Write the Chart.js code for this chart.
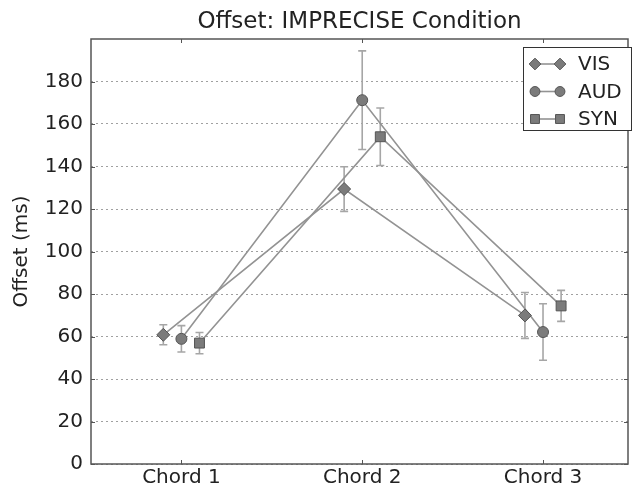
<!DOCTYPE html>
<html>
<head>
<meta charset="utf-8">
<script src="https://cdn.jsdelivr.net/npm/chart.js@4/dist/chart.umd.min.js"></script>
<style>
html,body{margin:0;padding:0;background:#fff;}
#wrap{width:636px;height:492px;}
</style>
</head>
<body>
<div id="wrap"><canvas id="c" width="636" height="492"></canvas></div>
<script>
// ---- data ----
const categories = ['Chord 1', 'Chord 2', 'Chord 3'];
const seriesNames = ['VIS', 'AUD', 'SYN'];
const visValues = [60.8, 129.4, 69.9];
const audValues = [58.9, 171.2, 62.1];
const synValues = [56.9, 154.0, 74.4];
const visErr = [4.7, 10.5, 10.8];
const audErr = [6.2, 23.2, 13.3];
const synErr = [5.0, 13.5, 7.3];
const yTicks = [0, 20, 40, 60, 80, 100, 120, 140, 160, 180];

// ---- styling / layout ----
const seriesShift = [-0.1, 0, 0.1];
const pointStyles = ['rectRot', 'circle', 'rect'];
const pointRadii = [6.5, 5.5, 7];
const FONT = "'DejaVu Sans', sans-serif";
const TEXT = '#222';

const allValues = [visValues, audValues, synValues];
const allErr = [visErr, audErr, synErr];

const datasets = seriesNames.map((name, s) => ({
  label: name,
  data: categories.map((c, i) => ({x: i + 1 + seriesShift[s], y: allValues[s][i], err: allErr[s][i]})),
  showLine: true,
  borderColor: '#939393',
  borderWidth: 1.6,
  pointStyle: pointStyles[s],
  pointRadius: pointRadii[s],
  pointHoverRadius: pointRadii[s],
  pointBackgroundColor: '#7b7b7b',
  pointBorderColor: '#555',
  pointBorderWidth: 1,
  tension: 0
}));

function drawMarker(ctx, style, r, x, y) {
  ctx.save();
  ctx.fillStyle = '#7b7b7b';
  ctx.strokeStyle = '#555';
  ctx.lineWidth = 1;
  ctx.beginPath();
  if (style === 'circle') {
    ctx.arc(x, y, r, 0, Math.PI * 2);
  } else if (style === 'rect') {
    const h = r * Math.SQRT1_2;
    ctx.rect(x - h, y - h, 2 * h, 2 * h);
  } else {
    ctx.moveTo(x, y - r); ctx.lineTo(x + r, y); ctx.lineTo(x, y + r); ctx.lineTo(x - r, y); ctx.closePath();
  }
  ctx.fill(); ctx.stroke();
  ctx.restore();
}

const errorBars = {
  id: 'errorBars',
  beforeDatasetsDraw(chart) {
    const ctx = chart.ctx, xs = chart.scales.x, ys = chart.scales.y;
    ctx.save();
    ctx.strokeStyle = '#a6a6a6';
    ctx.lineWidth = 1.6;
    chart.data.datasets.forEach(ds => {
      ds.data.forEach(p => {
        const x = xs.getPixelForValue(p.x);
        const t = ys.getPixelForValue(p.y + p.err);
        const b = ys.getPixelForValue(p.y - p.err);
        ctx.beginPath();
        ctx.moveTo(x, t); ctx.lineTo(x, b);
        ctx.moveTo(x - 4, t); ctx.lineTo(x + 4, t);
        ctx.moveTo(x - 4, b); ctx.lineTo(x + 4, b);
        ctx.stroke();
      });
    });
    ctx.restore();
  }
};

const frame = {
  id: 'frame',
  afterDraw(chart) {
    const ctx = chart.ctx, a = chart.chartArea, xs = chart.scales.x, ys = chart.scales.y;
    ctx.save();
    // frame
    ctx.strokeStyle = '#555';
    ctx.lineWidth = 1.5;
    ctx.strokeRect(a.left, a.top, a.right - a.left, a.bottom - a.top);
    // inward ticks
    ctx.lineWidth = 1;
    ctx.beginPath();
    [1, 2, 3].forEach(v => {
      const x = Math.round(xs.getPixelForValue(v)) + 0.5;
      ctx.moveTo(x, a.bottom); ctx.lineTo(x, a.bottom - 4);
      ctx.moveTo(x, a.top); ctx.lineTo(x, a.top + 4);
    });
    yTicks.forEach(v => {
      const y = Math.round(ys.getPixelForValue(v)) + 0.5;
      ctx.moveTo(a.left, y); ctx.lineTo(a.left + 4, y);
      ctx.moveTo(a.right, y); ctx.lineTo(a.right - 4, y);
    });
    ctx.stroke();
    // title
    ctx.fillStyle = TEXT;
    ctx.font = '23px ' + FONT;
    ctx.textAlign = 'center';
    ctx.textBaseline = 'alphabetic';
    ctx.fillText('Offset: IMPRECISE Condition', (a.left + a.right) / 2, 28);
    // legend
    const lx = 523, ly = 47, lw = 108, lh = 83;
    ctx.fillStyle = '#fff';
    ctx.fillRect(lx, ly, lw, lh);
    ctx.strokeStyle = '#333';
    ctx.lineWidth = 1;
    ctx.strokeRect(lx + 0.5, ly + 0.5, lw, lh);
    chart.data.datasets.forEach((ds, s) => {
      const y = 64 + s * 27.5;
      ctx.strokeStyle = ds.borderColor;
      ctx.lineWidth = 1.6;
      ctx.beginPath(); ctx.moveTo(535, y); ctx.lineTo(560, y); ctx.stroke();
      drawMarker(ctx, ds.pointStyle, ds.pointRadius * 0.9, 535, y);
      drawMarker(ctx, ds.pointStyle, ds.pointRadius * 0.9, 560, y);
      ctx.fillStyle = TEXT;
      ctx.font = '20px ' + FONT;
      ctx.textAlign = 'left';
      ctx.textBaseline = 'middle';
      ctx.fillText(ds.label, 578, y + 1);
    });
    ctx.restore();
  }
};

new Chart(document.getElementById('c'), {
  type: 'scatter',
  data: {datasets},
  options: {
    responsive: false,
    animation: false,
    events: [],
    layout: {padding: {top: 39, right: 2, left: 0, bottom: 0}},
    plugins: {legend: {display: false}, tooltip: {enabled: false}, title: {display: false}},
    scales: {
      x: {
        type: 'linear',
        min: 0.5,
        max: 3.47,
        afterBuildTicks: s => { s.ticks = categories.map((c, i) => ({value: i + 1})); },
        afterFit: s => { s.height = 28; },
        grid: {display: false, drawTicks: false},
        border: {display: false},
        ticks: {
          callback: v => categories[Math.round(v) - 1] || '',
          font: {family: FONT, size: 20},
          color: TEXT,
          padding: 2,
          maxRotation: 0,
          autoSkip: false
        }
      },
      y: {
        min: 0,
        max: 200,
        afterBuildTicks: s => { s.ticks = yTicks.map(v => ({value: v})); },
        afterFit: s => { s.width = 91; },
        grid: {color: '#a0a0a0', lineWidth: 1, drawTicks: false},
        border: {display: false, dash: [2, 3]},
        ticks: {
          font: {family: FONT, size: 20},
          color: TEXT,
          padding: 8
        },
        title: {
          display: true,
          text: 'Offset (ms)',
          font: {family: FONT, size: 20},
          color: TEXT,
          padding: {top: 10, bottom: 0}
        }
      }
    }
  },
  plugins: [errorBars, frame]
});
</script>
</body>
</html>
